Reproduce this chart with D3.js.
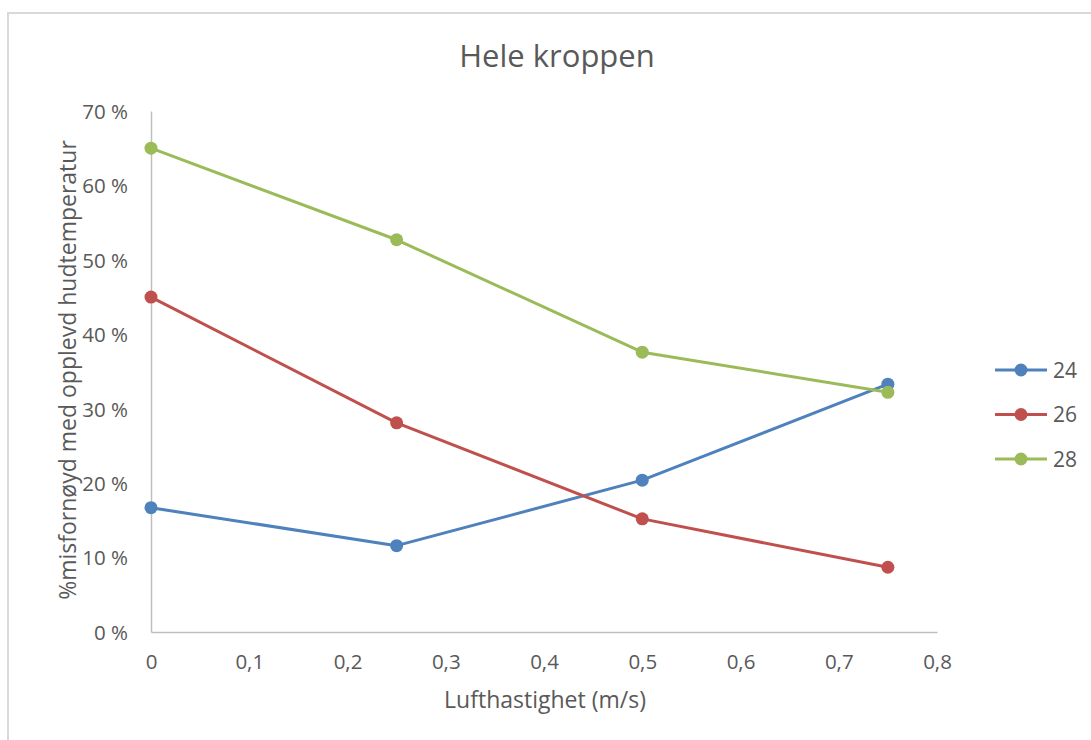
<!DOCTYPE html>
<html>
<head>
<meta charset="utf-8">
<script src="https://cdn.jsdelivr.net/npm/d3@7"></script>
<style>
  html, body { margin: 0; padding: 0; background: #fff; }
  svg { display: block; }
  text { font-family: "Open Sans", Lato, sans-serif; fill: #595959; }
</style>
</head>
<body>
<script>
// Air velocity (m/s) at which dissatisfaction was measured
const speeds = [0, 0.25, 0.5, 0.75];
// Share dissatisfied with perceived skin temperature, per room temperature
const series24 = [0.167, 0.116, 0.204, 0.333];
const series26 = [0.45, 0.281, 0.152, 0.087];
const series28 = [0.65, 0.527, 0.376, 0.322];
const seriesNames = ["24", "26", "28"];
const seriesColors = ["#4f81bd", "#c0504d", "#9bbb59"];
const xTicks = [0, 0.1, 0.2, 0.3, 0.4, 0.5, 0.6, 0.7, 0.8];
const yTicks = [0, 0.1, 0.2, 0.3, 0.4, 0.5, 0.6, 0.7];

const W = 1091, H = 740;
const FONT = "'Open Sans', Lato, sans-serif";
const svg = d3.select("body").append("svg").attr("width", W).attr("height", H);

// chart frame
svg.append("rect").attr("x", 8).attr("y", 13).attr("width", W).attr("height", H)
  .attr("fill", "#fff").attr("stroke", "#d9d9d9").attr("stroke-width", 2);

const x = d3.scaleLinear().domain([0, 0.8]).range([151, 937]);
const y = d3.scaleLinear().domain([0, 0.7]).range([632, 111]);

const fmtX = d => d === 0 ? "0" : d3.format(".1f")(d).replace(".", ",");
const fmtY = d => Math.round(d * 100) + " %";

// y axis
const yAxis = svg.append("g").attr("transform", `translate(${x(0)},0)`)
  .call(d3.axisLeft(y).tickValues(yTicks).tickFormat(fmtY).tickSize(0).tickPadding(23));
yAxis.select(".domain").attr("stroke", "#bfbfbf").attr("stroke-width", 1.5);
yAxis.selectAll("text").attr("font-size", 20.5).style("fill", "#595959")
  .style("font-family", FONT).attr("dy", "0.36em");

// x axis
const xAxis = svg.append("g").attr("transform", `translate(0,${y(0)})`)
  .call(d3.axisBottom(x).tickValues(xTicks).tickFormat(fmtX).tickSize(0).tickPadding(22));
xAxis.select(".domain").attr("stroke", "#bfbfbf").attr("stroke-width", 1.5);
xAxis.selectAll("text").attr("font-size", 20.5).style("fill", "#595959")
  .style("font-family", FONT);

// title and axis titles
svg.append("text").attr("x", 557).attr("y", 67).attr("text-anchor", "middle")
  .attr("font-size", 31).text("Hele kroppen");
svg.append("text").attr("x", 545).attr("y", 708).attr("text-anchor", "middle")
  .attr("font-size", 23).text("Lufthastighet (m/s)");
svg.append("text").attr("transform", "translate(76,370) rotate(-90)")
  .attr("text-anchor", "middle").attr("font-size", 23)
  .text("%misfornøyd med opplevd hudtemperatur");

// series lines and markers
const allSeries = [series24, series26, series28];
const line = d3.line().x((d, i) => x(speeds[i])).y(d => y(d));
allSeries.forEach((vals, k) => {
  svg.append("path").datum(vals).attr("d", line).attr("fill", "none")
    .attr("stroke", seriesColors[k]).attr("stroke-width", 3).attr("stroke-linejoin", "round");
  svg.selectAll(null).data(vals).enter().append("circle")
    .attr("cx", (d, i) => x(speeds[i])).attr("cy", d => y(d)).attr("r", 6.5)
    .attr("fill", seriesColors[k]);
});

// legend
const legend = svg.append("g");
seriesNames.forEach((name, k) => {
  const ly = 370 + k * 44.5;
  legend.append("line").attr("x1", 995).attr("x2", 1047).attr("y1", ly).attr("y2", ly)
    .attr("stroke", seriesColors[k]).attr("stroke-width", 3);
  legend.append("circle").attr("cx", 1021).attr("cy", ly).attr("r", 6.5).attr("fill", seriesColors[k]);
  legend.append("text").attr("x", 1053).attr("y", ly + 7.5).attr("font-size", 21).text(name);
});
</script>
</body>
</html>
